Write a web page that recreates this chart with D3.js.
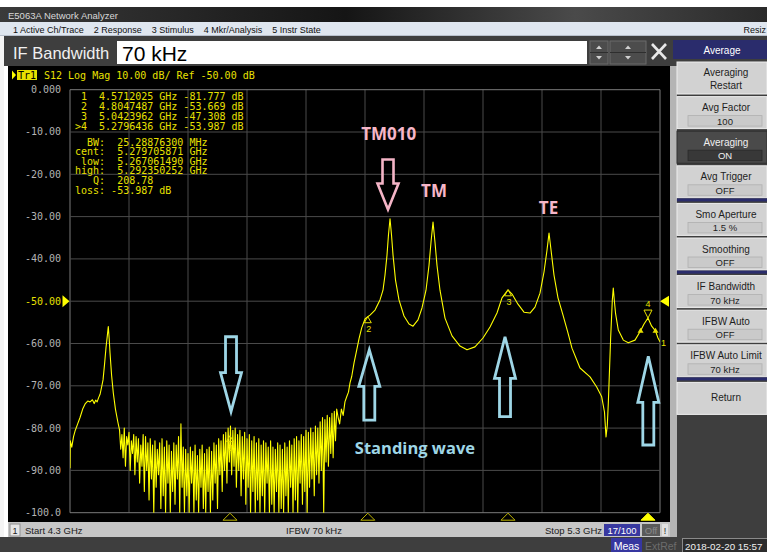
<!DOCTYPE html>
<html>
<head>
<meta charset="utf-8">
<script src="https://cdn.jsdelivr.net/npm/d3@7"></script>
<style>
  body { margin: 0; background: #ffffff; }
  text { font-family: "Liberation Sans", Arial, sans-serif; }
  .mono { font-family: "DejaVu Sans Mono", monospace; }
</style>
</head>
<body>
<div id="chart"></div>
<script>
// sweep setup
const startGHz = 4.3, stopGHz = 5.3
const refDb = -50, dbPerDiv = 10
const yTickLabels = ["0.000", "-10.00", "-20.00", "-30.00", "-40.00", "-50.00", "-60.00", "-70.00", "-80.00", "-90.00", "-100.0"]

// trace S12 [GHz, dB]
const lowTrace = [
  [4.3000, -89.5], [4.3005, -83.0], [4.3030, -84.5], [4.3060, -82.0], [4.3090, -80.5], [4.3130, -79.0],
  [4.3170, -77.5], [4.3215, -75.5], [4.3260, -74.2], [4.3300, -73.6], [4.3340, -73.8], [4.3380, -73.3],
  [4.3410, -74.2], [4.3435, -73.4], [4.3460, -73.8], [4.3485, -72.8], [4.3510, -72.0], [4.3537, -70.2],
  [4.3560, -68.6], [4.3585, -65.0], [4.3610, -61.0], [4.3630, -58.5], [4.3649, -56.0], [4.3665, -59.0],
  [4.3678, -62.2], [4.3705, -67.5], [4.3734, -71.7], [4.3770, -75.5], [4.3810, -78.5]
]
// noise floor, one reading every 2 MHz from 4.384 GHz
const noiseStartGHz = 4.384, noiseStepGHz = 0.002
const noiseDb = [
  -80.5, -85, -81.5, -87, -80, -89, -82, -84, -81, -90,
  -83, -86, -81.5, -91, -82, -88, -82.5, -93, -84, -89,
  -81.5, -95, -82, -90, -83.5, -97, -82.5, -92, -84, -100,
  -83, -94, -85, -91, -83.5, -99, -82.5, -96, -84.5, -100,
  -83, -93, -84, -100, -85.5, -95, -83.5, -98, -84, -92,
  -82, -100, -79, -94, -84.5, -100, -85, -96, -86, -100,
  -84.5, -93, -85.5, -100, -84, -97, -86.5, -100, -85, -94,
  -84, -99, -86, -100, -85, -95, -84.5, -100, -85.5, -97,
  -83.5, -93, -84, -99, -82.5, -91, -83, -95, -81.5, -90,
  -81, -93, -80, -88, -79.5, -91, -80.5, -89, -80, -94,
  -81.5, -90, -80.5, -96, -82, -92, -81, -98, -82.5, -94,
  -81.5, -100, -83, -95, -82, -100, -83.5, -97, -82.5, -100,
  -84, -96, -83, -100, -83.5, -93, -84.5, -100, -83, -98,
  -84.5, -100, -85, -95, -83.5, -100, -84, -99, -85, -100,
  -83.5, -96, -84.5, -100, -83, -94, -84, -100, -82.5, -97,
  -82, -100, -83, -93, -81.5, -98, -82, -95, -80.5, -100,
  -81, -94, -80, -92, -81, -96, -79.5, -91, -80, -93,
  -78.5, -90, -77.5, -100, -78, -88, -77, -89, -77.5, -86,
  -76.5, -87, -76, -83, -75.5
]
const highTrace = [
  [4.7545, -77.5], [4.7570, -79.0], [4.7600, -75.5], [4.7630, -77.0], [4.7660, -73.8], [4.7690, -72.6],
  [4.7720, -71.5], [4.7746, -69.3], [4.7775, -67.8], [4.7815, -64.5], [4.7860, -61.5], [4.7900, -58.8],
  [4.7944, -56.3], [4.8000, -54.2], [4.8047, -53.669], [4.8085, -53.3], [4.8170, -52.1], [4.8254, -49.7],
  [4.8305, -47.4], [4.8339, -43.8], [4.8373, -39.1], [4.8398, -34.3], [4.8424, -30.5], [4.8449, -34.3],
  [4.8475, -39.1], [4.8517, -45.0], [4.8576, -49.7], [4.8661, -53.5], [4.8746, -55.4], [4.8814, -55.9],
  [4.8898, -54.4], [4.8966, -51.6], [4.9034, -47.4], [4.9085, -41.5], [4.9119, -36.0], [4.9153, -31.3],
  [4.9186, -36.0], [4.9220, -41.5], [4.9271, -47.4], [4.9356, -54.0], [4.9475, -58.2], [4.9610, -60.6],
  [4.9729, -61.5], [4.9864, -60.8], [5.0000, -58.7], [5.0119, -56.1], [5.0237, -52.8], [5.0322, -49.2],
  [5.0424, -47.308], [5.0492, -48.3], [5.0593, -50.7], [5.0695, -52.6], [5.0797, -52.8], [5.0881, -51.4],
  [5.0966, -48.1], [5.1034, -43.1], [5.1085, -37.9], [5.1119, -33.9], [5.1153, -37.9], [5.1203, -43.8],
  [5.1271, -49.2], [5.1356, -53.3], [5.1440, -57.5], [5.1508, -61.1], [5.1644, -65.8], [5.1814, -67.9],
  [5.1927, -70.3], [5.2012, -72.6], [5.2059, -76.2], [5.2085, -82.1], [5.2107, -79.3], [5.2124, -74.1],
  [5.2164, -58.5], [5.2192, -49.7], [5.2208, -46.9], [5.2225, -49.7], [5.2246, -52.8], [5.2293, -56.8],
  [5.2378, -59.2], [5.2463, -59.8], [5.2576, -59.2], [5.2671, -57.0], [5.2729, -55.4], [5.2796, -53.987],
  [5.2859, -55.9], [5.2923, -57.0], [5.2966, -58.7], [5.3000, -59.6]
]

// markers
const markerNames = ["1", "2", "3", "4"]
const markerGHz = [4.5712025, 4.8047487, 5.0423962, 5.2796436]
const markerDb = [-81.777, -53.669, -47.308, -53.987]
const activeMarker = 3
const bwEdgeGHz = [5.267061490, 5.292350252]
const bwEdgeDb = -56.987

const readoutMarkers = [
  " 1  4.5712025 GHz -81.777 dB",
  " 2  4.8047487 GHz -53.669 dB",
  " 3  5.0423962 GHz -47.308 dB",
  ">4  5.2796436 GHz -53.987 dB"
]
const readoutBw = [
  "  BW:  25.28876300 MHz",
  "cent:  5.279705871 GHz",
  " low:  5.267061490 GHz",
  "high:  5.292350252 GHz",
  "   Q:  208.78",
  "loss: -53.987 dB"
]

// hand drawn notes on the screenshot  [GHz, tip dB, tail dB]
const blueArrows = [[4.5729, -76.1, -58.4], [4.8073, -61.5, -78.1], [5.0373, -58.4, -77.3], [5.2802, -63.0, -84.0]]
const pinkArrows = [[4.8390, -28.3, -16.5]]
const pinkNotes = [["TM010", 4.8403, -10.3], ["TM", 4.9170, -23.8], ["TE", 5.1110, -27.8]]
const blueNotes = [["Standing wave", 4.8847, -84.5]]

// instrument chrome
const menuItems = ["1 Active Ch/Trace", "2 Response", "3 Stimulus", "4 Mkr/Analysis", "5 Instr State"]
const softkeyTitle = "Average"
const softkeyGroups = [
  [["Averaging", "Restart", "two"], ["Avg Factor", "100"], ["Averaging", "ON", "on"], ["Avg Trigger", "OFF"]],
  [["Smo Aperture", "1.5 %"], ["Smoothing", "OFF"]],
  [["IF Bandwidth", "70 kHz"], ["IFBW Auto", "OFF"], ["IFBW Auto Limit", "70 kHz"]],
  [["Return"]]
]

const W = 767, H = 552
const margin = { top: 89.7, right: 107, bottom: 39.3, left: 70 }
const pw = W - margin.left - margin.right, ph = H - margin.top - margin.bottom

const svg = d3.select("#chart").append("svg")
  .attr("width", W).attr("height", H)

// ---------- window frame ----------
svg.append("rect").attr("width", W).attr("height", H).attr("fill", "#ffffff")
const tg = svg.append("defs").append("linearGradient").attr("id", "titleg")
tg.append("stop").attr("offset", "0%").attr("stop-color", "#3a3a3a")
tg.append("stop").attr("offset", "45%").attr("stop-color", "#151515")
tg.append("stop").attr("offset", "75%").attr("stop-color", "#4a4a4a")
tg.append("stop").attr("offset", "100%").attr("stop-color", "#2a2a2a")
svg.append("rect").attr("x", 0).attr("y", 7).attr("width", W).attr("height", 15).attr("fill", "url(#titleg)")
svg.append("text").attr("x", 8).attr("y", 18.5).attr("fill", "#d8d8d8").style("font-size", "9.5px")
  .text("E5063A Network Analyzer")

svg.append("rect").attr("x", 0).attr("y", 22).attr("width", W).attr("height", 14).attr("fill", "#dfe6ef")
svg.append("line").attr("x1", 0).attr("x2", W).attr("y1", 35.5).attr("y2", 35.5).attr("stroke", "#b8c0cc")
let mx = 13
menuItems.forEach(m => {
  const t = svg.append("text").attr("x", mx).attr("y", 32.5).attr("fill", "#101010").style("font-size", "9px").text(m)
  mx += t.node().getComputedTextLength() + 10
})
svg.append("text").attr("x", W - 1).attr("y", 32.5).attr("text-anchor", "end").attr("fill", "#101010")
  .style("font-size", "9px").text("Resiz")

// entry toolbar
svg.append("rect").attr("x", 0).attr("y", 36).attr("width", W).attr("height", 30).attr("fill", "#3e3e3e")
svg.append("rect").attr("x", 0).attr("y", 36).attr("width", 4).attr("height", 516).attr("fill", "#f4f4f4")
svg.append("text").attr("x", 13).attr("y", 59).attr("fill", "#f0f0f0").style("font-size", "16.5px").text("IF Bandwidth")
svg.append("rect").attr("x", 117).attr("y", 41).attr("width", 470).attr("height", 23).attr("fill", "#ffffff")
svg.append("text").attr("x", 122).attr("y", 61).attr("fill", "#000000").style("font-size", "21px").text("70 kHz")
;[[590, 18], [610, 36]].forEach(b => {
  const g = svg.append("g").attr("transform", `translate(${b[0]},41)`)
  g.append("rect").attr("width", b[1]).attr("height", 23).attr("fill", "#4c4c4c").attr("stroke", "#6a6a6a")
  g.append("line").attr("x1", 0).attr("x2", b[1]).attr("y1", 11.5).attr("y2", 11.5).attr("stroke", "#2e2e2e")
  g.append("path").attr("d", `M${b[1] / 2 - 3},8 L${b[1] / 2 + 3},8 L${b[1] / 2},4.5 Z`).attr("fill", "#d0d0d0")
  g.append("path").attr("d", `M${b[1] / 2 - 3},15 L${b[1] / 2 + 3},15 L${b[1] / 2},18.5 Z`).attr("fill", "#d0d0d0")
})
svg.append("path").attr("d", "M652,44 L666,59 M666,44 L652,59").attr("stroke", "#e8e8e8").attr("stroke-width", 2.6)

// ---------- display area ----------
svg.append("rect").attr("x", 8).attr("y", 66).attr("width", 662).attr("height", 456).attr("fill", "#000000")

const x = d3.scaleLinear().domain([startGHz, stopGHz]).range([0, pw])
const y = d3.scaleLinear().domain([refDb - 5 * dbPerDiv, refDb + 5 * dbPerDiv]).range([ph, 0])

const plot = svg.append("g").attr("transform", `translate(${margin.left},${margin.top})`)

// grid
plot.selectAll(".vgrid").data(d3.range(11)).enter().append("line")
  .attr("x1", d => x(startGHz + d * (stopGHz - startGHz) / 10)).attr("x2", d => x(startGHz + d * (stopGHz - startGHz) / 10))
  .attr("y1", 0).attr("y2", ph)
  .attr("stroke", (d, i) => (i === 0 || i === 10) ? "#7a7a7a" : "#4a4a4a").attr("stroke-width", 1)
plot.selectAll(".hgrid").data(yTickLabels).enter().append("line")
  .attr("x1", 0).attr("x2", pw)
  .attr("y1", (d, i) => y(-i * dbPerDiv)).attr("y2", (d, i) => y(-i * dbPerDiv))
  .attr("stroke", (d, i) => (i === 0 || i === 10) ? "#7a7a7a" : "#4a4a4a").attr("stroke-width", 1)

// y labels
plot.selectAll(".ylab").data(yTickLabels).enter().append("text")
  .attr("class", "mono")
  .attr("x", -9).attr("y", (d, i) => y(-i * dbPerDiv) + 3.5)
  .attr("text-anchor", "end")
  .attr("fill", (d, i) => (-i * dbPerDiv === refDb) ? "#e8e000" : "#b4b4b4")
  .style("font-size", "10px")
  .text(d => d)

// reference level pointers
plot.append("path").attr("d", `M-7.5,${y(refDb) - 6} L-0.5,${y(refDb)} L-7.5,${y(refDb) + 6} Z`).attr("fill", "#ffff00")
plot.append("path").attr("d", `M${pw + 9},${y(refDb) - 5.5} L${pw},${y(refDb)} L${pw + 9},${y(refDb) + 5.5} Z`).attr("fill", "#ffff00")

// trace header
svg.append("path").attr("d", "M12,70.5 L16,75 L12,79.5 Z").attr("fill", "#ffff00")
svg.append("rect").attr("x", 17).attr("y", 70).attr("width", 20).attr("height", 10).attr("fill", "#e8e000")
svg.append("text").attr("class", "mono").attr("x", 18).attr("y", 78.5).attr("fill", "#000000").style("font-size", "10px").text("Tr1")
svg.append("text").attr("class", "mono").attr("x", 44).attr("y", 78.5).attr("fill", "#e8e000").style("font-size", "10px")
  .text("S12 Log Mag 10.00 dB/ Ref -50.00 dB")

// trace
const trace = lowTrace
  .concat(noiseDb.map((d, i) => [noiseStartGHz + i * noiseStepGHz, d]))
  .concat(highTrace)

svg.append("defs").append("clipPath").attr("id", "pclip")
  .append("rect").attr("x", 0).attr("y", -2).attr("width", pw).attr("height", ph + 2)

const line = d3.line().x(d => x(d[0])).y(d => y(d[1]))
plot.append("path").datum(trace)
  .attr("clip-path", "url(#pclip)")
  .attr("fill", "none").attr("stroke", "#ffff00").attr("stroke-width", 1.1)
  .attr("stroke-linejoin", "round")
  .attr("d", line)

// readout
plot.selectAll(".ro1").data(readoutMarkers).enter().append("text")
  .attr("class", "mono").attr("x", 5).attr("y", (d, i) => 10.5 + i * 10)
  .attr("fill", "#e8e000").style("font-size", "10px").style("white-space", "pre")
  .text(d => d)
plot.selectAll(".ro2").data(readoutBw).enter().append("text")
  .attr("class", "mono").attr("x", 5).attr("y", (d, i) => 56 + i * 9.6)
  .attr("fill", "#e8e000").style("font-size", "10px").style("white-space", "pre")
  .text(d => d)

// marker symbols on the trace
markerGHz.forEach((f, i) => {
  const mxp = x(f), myp = y(markerDb[i])
  if (i === activeMarker) {
    plot.append("path").attr("d", `M${mxp - 4},${myp - 8} L${mxp + 4},${myp - 8} L${mxp},${myp} Z`)
      .attr("fill", "none").attr("stroke", "#e8e000").attr("stroke-width", 1)
    plot.append("text").attr("x", mxp).attr("y", myp - 11).attr("text-anchor", "middle")
      .attr("fill", "#e8e000").style("font-size", "9px").text(markerNames[i])
  } else {
    plot.append("path").attr("d", `M${mxp - 3.5},${myp + 6} L${mxp + 3.5},${myp + 6} L${mxp},${myp} Z`)
      .attr("fill", "none").attr("stroke", "#e8e000").attr("stroke-width", 1)
    plot.append("text").attr("x", mxp + 1).attr("y", myp + 15).attr("text-anchor", "middle")
      .attr("fill", "#e8e000").style("font-size", "9px").text(markerNames[i])
  }
  // stimulus position marks under the grid
  plot.append("path").attr("d", `M${mxp - 7},${ph + 7.5} L${mxp + 7},${ph + 7.5} L${mxp},${ph + 0.5} Z`)
    .attr("fill", i === activeMarker ? "#ffff00" : "none")
    .attr("stroke", i === activeMarker ? "#ffff00" : "#bdb400").attr("stroke-width", 1)
})
bwEdgeGHz.forEach(f => {
  plot.append("path").attr("d", `M${x(f) - 3},${y(bwEdgeDb) + 2} L${x(f) + 3},${y(bwEdgeDb) + 2} L${x(f)},${y(bwEdgeDb) - 3} Z`)
    .attr("fill", "#e8e000")
})
plot.append("text").attr("x", x(stopGHz) + 1).attr("y", y(highTrace[highTrace.length - 1][1]) + 4)
  .attr("fill", "#e8e000").style("font-size", "9px").text("1")

// annotations
function arrowPath(f, tipDb, tailDb) {
  const cx = x(f), ty = y(tipDb), by = y(tailDb)
  const dir = by > ty ? 1 : -1
  const len = Math.abs(by - ty), head = len * 0.52, sw = 5.5, hw = 10.5
  const hy = ty + dir * head
  return `M${cx},${ty} L${cx + hw},${hy} L${cx + sw},${hy} L${cx + sw},${by} L${cx - sw},${by} L${cx - sw},${hy} L${cx - hw},${hy} Z`
}
plot.selectAll(".barrow").data(blueArrows).enter().append("path")
  .attr("d", d => arrowPath(d[0], d[1], d[2]))
  .attr("fill", "none").attr("stroke", "#9ed6e6").attr("stroke-width", 2.8).attr("stroke-linejoin", "miter")
plot.selectAll(".parrow").data(pinkArrows).enter().append("path")
  .attr("d", d => arrowPath(d[0], d[1], d[2]))
  .attr("fill", "none").attr("stroke", "#f4b4c6").attr("stroke-width", 2.6).attr("stroke-linejoin", "miter")
plot.selectAll(".pnote").data(pinkNotes).enter().append("text")
  .attr("x", d => x(d[1])).attr("y", d => y(d[2]) + 6.5).attr("text-anchor", "middle")
  .attr("fill", "#f6b6c8").style("font-family", "'Open Sans', sans-serif").style("font-weight", "700").style("font-size", "17px")
  .text(d => d[0])
plot.selectAll(".bnote").data(blueNotes).enter().append("text")
  .attr("x", d => x(d[1])).attr("y", d => y(d[2]) + 6.5).attr("text-anchor", "middle")
  .attr("fill", "#9ed6e6").style("font-family", "'Open Sans', sans-serif").style("font-weight", "700").style("font-size", "16.5px")
  .text(d => d[0])

// ---------- status bars ----------
svg.append("rect").attr("x", 8).attr("y", 522).attr("width", 663).attr("height", 15).attr("fill", "#c6c6c6")
svg.append("rect").attr("x", 0).attr("y", 537).attr("width", W).attr("height", 15).attr("fill", "#3e3e3e")
svg.append("rect").attr("x", 10).attr("y", 524).attr("width", 10).attr("height", 12).attr("fill", "#e6e6e6").attr("stroke", "#909090")
svg.append("text").attr("x", 15).attr("y", 533.5).attr("text-anchor", "middle").attr("fill", "#202020").style("font-size", "9px").text("1")
svg.append("text").attr("x", 25).attr("y", 533.5).attr("fill", "#202020").style("font-size", "9.5px").text(`Start ${startGHz} GHz`)
svg.append("text").attr("x", 286).attr("y", 533.5).attr("fill", "#202020").style("font-size", "9.5px").text("IFBW 70 kHz")
svg.append("text").attr("x", 545).attr("y", 533.5).attr("fill", "#202020").style("font-size", "9.5px").text(`Stop ${stopGHz} GHz`)
svg.append("rect").attr("x", 604).attr("y", 524).attr("width", 36).attr("height", 12).attr("fill", "#3838a0")
svg.append("text").attr("x", 622).attr("y", 533.5).attr("text-anchor", "middle").attr("fill", "#ffffff").style("font-size", "9.5px").text("17/100")
svg.append("rect").attr("x", 642).attr("y", 524).attr("width", 18).attr("height", 12).attr("fill", "#5a5a5a")
svg.append("text").attr("x", 651).attr("y", 533.5).attr("text-anchor", "middle").attr("fill", "#8a8a8a").style("font-size", "9.5px").text("Off")
svg.append("rect").attr("x", 662).attr("y", 524).attr("width", 6).attr("height", 12).attr("fill", "#e0e0e0")
svg.append("text").attr("x", 665).attr("y", 533.5).attr("text-anchor", "middle").attr("fill", "#202020").style("font-size", "9px").text("!")

svg.append("rect").attr("x", 611).attr("y", 538).attr("width", 31).attr("height", 14).attr("fill", "#3636a0")
svg.append("text").attr("x", 626.5).attr("y", 549.5).attr("text-anchor", "middle").attr("fill", "#ffffff").style("font-size", "10.5px").text("Meas")
svg.append("text").attr("x", 645).attr("y", 549.5).attr("fill", "#6c6c6c").style("font-size", "10.5px").text("ExtRef")
svg.append("rect").attr("x", 682.5).attr("y", 538.5).attr("width", 90).attr("height", 14).attr("fill", "#2c2c2c").attr("stroke", "#8a8a8a")
svg.append("text").attr("x", 685).attr("y", 549.5).attr("fill", "#f0f0f0").style("font-size", "9.8px").text("2018-02-20 15:57")

// ---------- softkey panel ----------
svg.append("rect").attr("x", 670).attr("y", 66).attr("width", 7).attr("height", 471).attr("fill", "#b4b4b4")
svg.append("rect").attr("x", 677).attr("y", 40).attr("width", 90).attr("height", 497).attr("fill", "#3e3e3e")
svg.append("rect").attr("x", 673).attr("y", 40).attr("width", 94).attr("height", 19).attr("fill", "#2a2c6c")
svg.append("text").attr("x", 722).attr("y", 53.5).attr("text-anchor", "middle").attr("fill", "#ffffff").style("font-size", "10px").text(softkeyTitle)

let ky = 62
softkeyGroups.forEach((grp, gi) => {
  if (gi > 0) {
    svg.append("rect").attr("x", 677).attr("y", ky - 2).attr("width", 90).attr("height", 3).attr("fill", "#2a2c6c")
    ky += 3
  }
  grp.forEach(k => {
    const on = k[2] === "on"
    const g = svg.append("g").attr("transform", `translate(677,${ky})`)
    g.append("rect").attr("width", 90).attr("height", 32).attr("fill", on ? "#4a4a4a" : "#d2d2d2")
      .attr("stroke", on ? "#303030" : "#eeeeee").attr("stroke-width", 1)
    const col = on ? "#f0f0f0" : "#1e1e1e"
    if (k.length === 1) {
      g.append("text").attr("x", 49).attr("y", 19).attr("text-anchor", "middle").attr("fill", col).style("font-size", "10px").text(k[0])
    } else if (k[2] === "two") {
      g.append("text").attr("x", 49).attr("y", 14).attr("text-anchor", "middle").attr("fill", col).style("font-size", "10px").text(k[0])
      g.append("text").attr("x", 49).attr("y", 26.5).attr("text-anchor", "middle").attr("fill", col).style("font-size", "10px").text(k[1])
    } else {
      g.append("text").attr("x", 49).attr("y", 14.5).attr("text-anchor", "middle").attr("fill", col).style("font-size", "10px").text(k[0])
      g.append("rect").attr("x", 11).attr("y", 19).attr("width", 74).attr("height", 10.5)
        .attr("fill", on ? "#383838" : "#cacaca").attr("stroke", on ? "#2a2a2a" : "#b0b0b0").attr("stroke-width", 0.8)
      g.append("text").attr("x", 48).attr("y", 28).attr("text-anchor", "middle").attr("fill", col).style("font-size", "9.5px").text(k[1])
    }
    ky += 34.6
  })
})
</script>
</body>
</html>
